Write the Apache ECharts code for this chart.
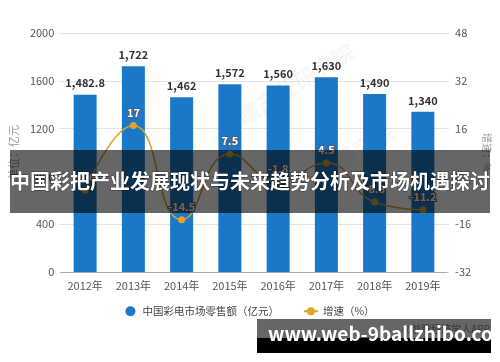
<!DOCTYPE html>
<html><head><meta charset="utf-8">
<script src="https://cdn.jsdelivr.net/npm/echarts@6/dist/echarts.min.js"></script>
<style>html,body{margin:0;padding:0;background:#fff}#c{width:500px;height:362px}</style>
</head><body><div id="c"></div>
<script>
var categories = ['2012年','2013年','2014年','2015年','2016年','2017年','2018年','2019年'];
var salesValues = [1482.8, 1722, 1462, 1572, 1560, 1630, 1490, 1340];
var growthValues = [-4.6, 17, -14.5, 7.5, -1.8, 4.5, -8.6, -11.2];
var leftTicks = {min: 0, max: 2000, interval: 400};
var rightTicks = {min: -32, max: 48, interval: 16};
var seriesNames = ['中国彩电市场零售额（亿元）', '增速（%）'];
var titleText = '中国彩把产业发展现状与未来趋势分析及市场机遇探讨';
var watermarkText = 'www.web-9ballzhibo.com';

var FONT = '"Noto Sans CJK SC", "Noto Sans", sans-serif';
function fmt(v){ var p = String(v).split('.'); p[0] = p[0].replace(/\B(?=(\d{3})+(?!\d))/g, ','); return p.join('.'); }

var chart = echarts.init(document.getElementById('c'));
chart.setOption({
  animation: false,
  textStyle: {fontFamily: FONT},
  grid: [
    {left: 53, right: 42, top: 33, bottom: 90},
    {left: 61, right: 53, top: 33, bottom: 90}
  ],
  legend: {
    top: 301, left: 'center', itemGap: 24, itemWidth: 14, itemHeight: 10,
    textStyle: {fontSize: 10.5, color: '#444', fontFamily: FONT},
    data: [{name: seriesNames[0], icon: 'circle'}, {name: seriesNames[1]}]
  },
  xAxis: [
    {type: 'value', gridIndex: 0, show: false, min: 0, max: 1},
    {type: 'category', gridIndex: 1, data: categories,
     axisLine: {lineStyle: {color: '#aaa'}},
     axisTick: {alignWithLabel: true, length: 4, lineStyle: {color: '#aaa'}},
     axisLabel: {color: '#555', fontSize: 11, margin: 8, fontFamily: FONT}}
  ],
  yAxis: [
    {type: 'value', gridIndex: 0, min: leftTicks.min, max: leftTicks.max, interval: leftTicks.interval,
     name: '单位：亿元', nameLocation: 'middle', nameGap: 36, nameRotate: 90,
     nameTextStyle: {color: '#999', fontSize: 11, fontFamily: FONT},
     axisLine: {show: false}, axisTick: {show: false},
     axisLabel: {color: '#555', fontSize: 11, margin: 5, formatter: function(v){ return String(v); }},
     splitLine: {lineStyle: {color: '#e3e3e3'}}},
    {type: 'value', gridIndex: 0, position: 'right', min: rightTicks.min, max: rightTicks.max, interval: rightTicks.interval,
     name: '增速：%', nameLocation: 'middle', nameGap: 24, nameRotate: -90,
     nameTextStyle: {color: '#999', fontSize: 10, fontFamily: FONT},
     axisLine: {show: false}, axisTick: {show: false},
     axisLabel: {color: '#555', fontSize: 11, margin: 6, formatter: function(v){ return String(v); }},
     splitLine: {show: false}},
    {type: 'value', gridIndex: 1, min: leftTicks.min, max: leftTicks.max, show: false, splitLine: {show: false}},
    {type: 'value', gridIndex: 1, min: rightTicks.min, max: rightTicks.max, show: false, splitLine: {show: false}}
  ],
  series: [
    {name: seriesNames[0], type: 'bar', xAxisIndex: 1, yAxisIndex: 2, data: salesValues,
     barWidth: 23, itemStyle: {color: '#1a78c9'},
     label: {show: true, position: 'top', distance: 6, color: '#333', fontWeight: 'bold', fontSize: 11,
             formatter: function(p){ return fmt(p.value); }}},
    {name: seriesNames[1], type: 'line', xAxisIndex: 1, yAxisIndex: 3, data: growthValues,
     smooth: true, symbol: 'circle', symbolSize: 7,
     lineStyle: {color: '#d3a232', width: 1.5},
     itemStyle: {color: '#e0a52a'},
     label: {show: true, position: 'top', distance: 4, color: '#fff', fontWeight: 'bold', fontSize: 11,
             textBorderColor: '#55606e', textBorderWidth: 2}}
  ],
  graphic: [
    {type: 'text', left: 215, top: 40, rotation: 0.55, z: 1, silent: true,
     style: {text: '前瞻产业研究院', fill: 'rgba(0,0,0,0.035)', font: 'bold 22px ' + FONT}},
    {type: 'text', left: 330, top: 120, rotation: 0.55, z: 1, silent: true,
     style: {text: '研究院', fill: 'rgba(0,0,0,0.03)', font: 'bold 22px ' + FONT}},
    {type: 'text', right: 10, top: 324, z: 5, silent: true,
     style: {text: '@前瞻经济学人APP', fill: '#888', font: '10px ' + FONT}},
    {type: 'rect', left: 10, top: 150, z: 100, silent: true,
     shape: {width: 480, height: 63}, style: {fill: 'rgba(0,0,0,0.6)'}},
    {type: 'text', left: 'center', top: 171, z: 101, silent: true,
     style: {text: titleText, fill: '#fff', font: 'bold 20px ' + FONT, stroke: 'rgba(0,0,0,0.5)', lineWidth: 1}},
    {type: 'rect', left: 257, top: 319, z: 100, silent: true,
     shape: {width: 234, height: 34}, style: {fill: 'rgba(0,0,0,0.6)'}},
    {type: 'rect', left: 257, top: 338, z: 100, silent: true,
     shape: {width: 234, height: 15}, style: {fill: '#000'}},
    {type: 'text', left: 268, top: 324, z: 101, silent: true,
     style: {text: watermarkText, fill: '#fff', font: 'bold 19px ' + FONT}}
  ]
});
</script></body></html>
